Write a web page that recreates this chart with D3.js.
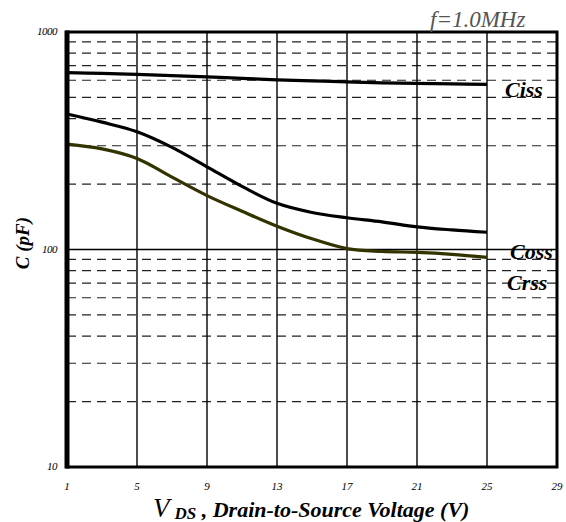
<!DOCTYPE html>
<html>
<head>
<meta charset="utf-8">
<script src="https://cdn.jsdelivr.net/npm/d3@7/dist/d3.min.js"></script>
<style>
  html, body { margin: 0; padding: 0; background: #fff; }
  svg { display: block; }
</style>
</head>
<body>
<div id="chart"></div>
<script>
// Data
const vds = [1, 3, 5, 7, 9, 11, 13, 15, 17, 19, 21, 23, 25];
const ciss = [650, 645, 638, 630, 622, 612, 603, 596, 590, 584, 580, 577, 574];
const coss = [420, 385, 348, 295, 240, 195, 163, 148, 140, 134, 127, 123, 120];
const crss = [305, 290, 262, 215, 177, 150, 128, 112, 101, 98, 97, 95, 92];
const xTicks = [1, 5, 9, 13, 17, 21, 25, 29];
const yTicks = [10, 100, 1000];
const dashedVals = [20, 30, 40, 50, 60, 70, 80, 90, 200, 300, 400, 500, 600, 700, 800, 900];

const font = 'Liberation Serif';
const width = 566;
const height = 522;
const plot = { left: 67, right: 557, top: 32, bottom: 467 };

const svg = d3.select('#chart')
    .append('svg')
    .attr('width', width)
    .attr('height', height)
    .attr('font-family', font);

const xScale = d3.scaleLinear().domain([1, 29]).range([plot.left, plot.right]);
const yScale = d3.scaleLog().domain([10, 1000]).range([plot.bottom, plot.top]);

// dashed minor gridlines
svg.append('g')
    .selectAll('line')
    .data(dashedVals)
    .join('line')
    .attr('x1', plot.left)
    .attr('x2', plot.right)
    .attr('y1', d => yScale(d))
    .attr('y2', d => yScale(d))
    .attr('stroke', '#222')
    .attr('stroke-width', 1.2)
    .attr('stroke-dasharray', '9,6');

// solid gridline at 100
svg.append('line')
    .attr('x1', plot.left)
    .attr('x2', plot.right)
    .attr('y1', yScale(100))
    .attr('y2', yScale(100))
    .attr('stroke', '#000')
    .attr('stroke-width', 1.3);

// vertical gridlines
svg.append('g')
    .selectAll('line')
    .data(xTicks.slice(1, -1))
    .join('line')
    .attr('x1', d => xScale(d))
    .attr('x2', d => xScale(d))
    .attr('y1', plot.top)
    .attr('y2', plot.bottom)
    .attr('stroke', '#000')
    .attr('stroke-width', 1.4);

// curves
const line = d3.line()
    .x((d, i) => xScale(vds[i]))
    .y(d => yScale(d))
    .curve(d3.curveCatmullRom);

const series = [
    { name: 'Ciss', values: ciss, color: '#000' },
    { name: 'Coss', values: coss, color: '#000' },
    { name: 'Crss', values: crss, color: '#333300' },
];

svg.append('g')
    .selectAll('path')
    .data(series)
    .join('path')
    .attr('d', d => line(d.values))
    .attr('fill', 'none')
    .attr('stroke', d => d.color)
    .attr('stroke-width', 3.2);

// frame
svg.append('rect')
    .attr('x', plot.left)
    .attr('y', plot.top)
    .attr('width', plot.right - plot.left)
    .attr('height', plot.bottom - plot.top)
    .attr('fill', 'none')
    .attr('stroke', '#000')
    .attr('stroke-width', 3);
svg.append('line')
    .attr('x1', plot.left)
    .attr('x2', plot.left)
    .attr('y1', plot.top - 1.5)
    .attr('y2', plot.bottom + 1.5)
    .attr('stroke', '#000')
    .attr('stroke-width', 5);

// tick labels
svg.append('g')
    .selectAll('text')
    .data(xTicks)
    .join('text')
    .attr('x', d => xScale(d))
    .attr('y', 490)
    .attr('text-anchor', 'middle')
    .attr('font-size', 11)
    .attr('font-style', 'italic')
    .text(d => d);

svg.append('g')
    .selectAll('text')
    .data(yTicks)
    .join('text')
    .attr('x', 57)
    .attr('y', d => yScale(d) + 3)
    .attr('text-anchor', 'end')
    .attr('font-size', 11)
    .attr('font-style', 'italic')
    .attr('letter-spacing', -0.5)
    .text(d => d);

// series labels
const labels = [
    { text: 'Ciss', x: 505, y: 97 },
    { text: 'Coss', x: 510, y: 259 },
    { text: 'Crss', x: 507, y: 290 },
];
svg.append('g')
    .selectAll('text')
    .data(labels)
    .join('text')
    .attr('x', d => d.x)
    .attr('y', d => d.y)
    .attr('font-size', 22)
    .attr('font-style', 'italic')
    .attr('font-weight', 'bold')
    .text(d => d.text);

// frequency note
svg.append('text')
    .attr('x', 430)
    .attr('y', 27)
    .attr('font-size', 23)
    .attr('font-style', 'italic')
    .attr('fill', '#555')
    .text('f=1.0MHz');

// axis titles
const xt = svg.append('text')
    .attr('x', 153)
    .attr('y', 517)
    .attr('font-style', 'italic')
    .attr('font-weight', 'bold');
xt.append('tspan').attr('font-size', 27).attr('font-weight', 'normal').text('V');
xt.append('tspan').attr('font-size', 17).attr('dx', 5).attr('dy', 2).text('DS');
xt.append('tspan').attr('font-size', 22).attr('dy', -2).text(' , Drain-to-Source Voltage (V)');

svg.append('text')
    .attr('transform', 'translate(29,243) rotate(-90)')
    .attr('text-anchor', 'middle')
    .attr('font-size', 19)
    .attr('font-style', 'italic')
    .attr('font-weight', 'bold')
    .text('C (pF)');
</script>
</body>
</html>
